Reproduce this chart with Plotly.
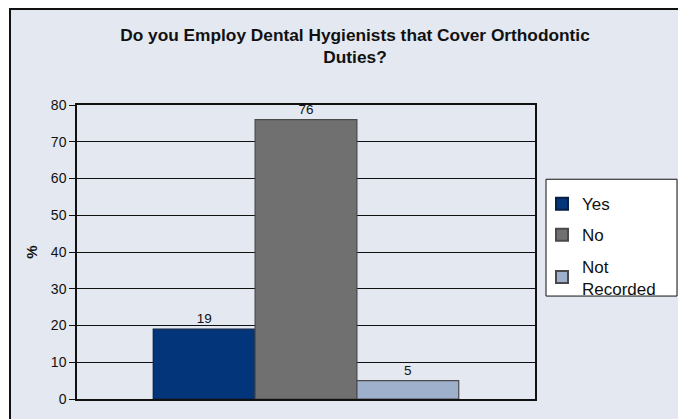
import plotly.graph_objects as go

# Survey answers and their shares (%)
categories = ["Yes", "No", "Not<br>Recorded"]
values = [19, 76, 5]
fills = ["#03357A", "#707070", "#9EB0CB"]
edges = ["#0A1E45", "#4A4A4A", "#4A4A4A"]
y_ticks = [0, 10, 20, 30, 40, 50, 60, 70, 80]

W, H = 678, 419
L, R, T, B = 77, 535, 105, 402  # plot area in pixels

fig = go.Figure()
for i, (name, v, fc, ec) in enumerate(zip(categories, values, fills, edges)):
    fig.add_trace(go.Bar(
        x=[""], y=[v], name=name, legendgroup=f"g{i}",
        marker=dict(color=fc, line=dict(color=ec, width=1.2)),
        text=[str(v)], textposition="outside",
        textfont=dict(family="Arial, Liberation Sans", size=13.5, color="#111"),
        cliponaxis=False,
    ))

def px_x(p):
    return (p - L) / (R - L)

def px_y(p):
    return (B - p) / (B - T)

fig.update_layout(
    width=W, height=H,
    margin=dict(l=L, r=W - R, t=T, b=H - B),
    paper_bgcolor="white",
    plot_bgcolor="rgba(0,0,0,0)",
    barmode="group", bargap=0.333, bargroupgap=0,
    showlegend=True,
    font=dict(family="Arial, Liberation Sans", color="#111"),
    title=dict(
        text="<b>Do you Employ Dental Hygienists that Cover Orthodontic<br>Duties?</b>",
        x=px_x(355), xref="paper", xanchor="center",
        y=1 - 41 / H, yanchor="middle",
        font=dict(size=17.3, color="#111"),
    ),
    legend=dict(
        x=px_x(542), xanchor="left", y=px_y(187), yanchor="top",
        bgcolor="rgba(0,0,0,0)", borderwidth=0,
        font=dict(size=17, color="#111"),
        itemsizing="constant", tracegroupgap=6,
        traceorder="grouped",
    ),
    xaxis=dict(
        showticklabels=False, ticks="", showgrid=False,
        showline=True, linecolor="#111", linewidth=1.5, mirror=True,
    ),
    yaxis=dict(
        range=[0, 80], tickvals=y_ticks, ticks="outside", ticklen=6,
        tickcolor="#111", tickfont=dict(size=14, color="#111"),
        showgrid=True, gridcolor="#111", gridwidth=1,
        showline=True, linecolor="#111", linewidth=1.5, mirror=True,
        zeroline=False,
        title=dict(text="<b>%</b>", font=dict(size=15, color="#111"), standoff=10),
    ),
    shapes=[
        # panel background with dark frame on top and left
        dict(type="rect", xref="paper", yref="paper", layer="below",
             x0=px_x(10), x1=px_x(W + 20), y0=px_y(H + 20), y1=px_y(8),
             fillcolor="#E4E8F0", line=dict(color="#111", width=2)),
        # legend box
        dict(type="rect", xref="paper", yref="paper", layer="below",
             x0=px_x(546), x1=px_x(677), y0=px_y(298), y1=px_y(180),
             fillcolor="white", line=dict(color="#111", width=1)),
    ],
)

fig.write_html("out.html")
